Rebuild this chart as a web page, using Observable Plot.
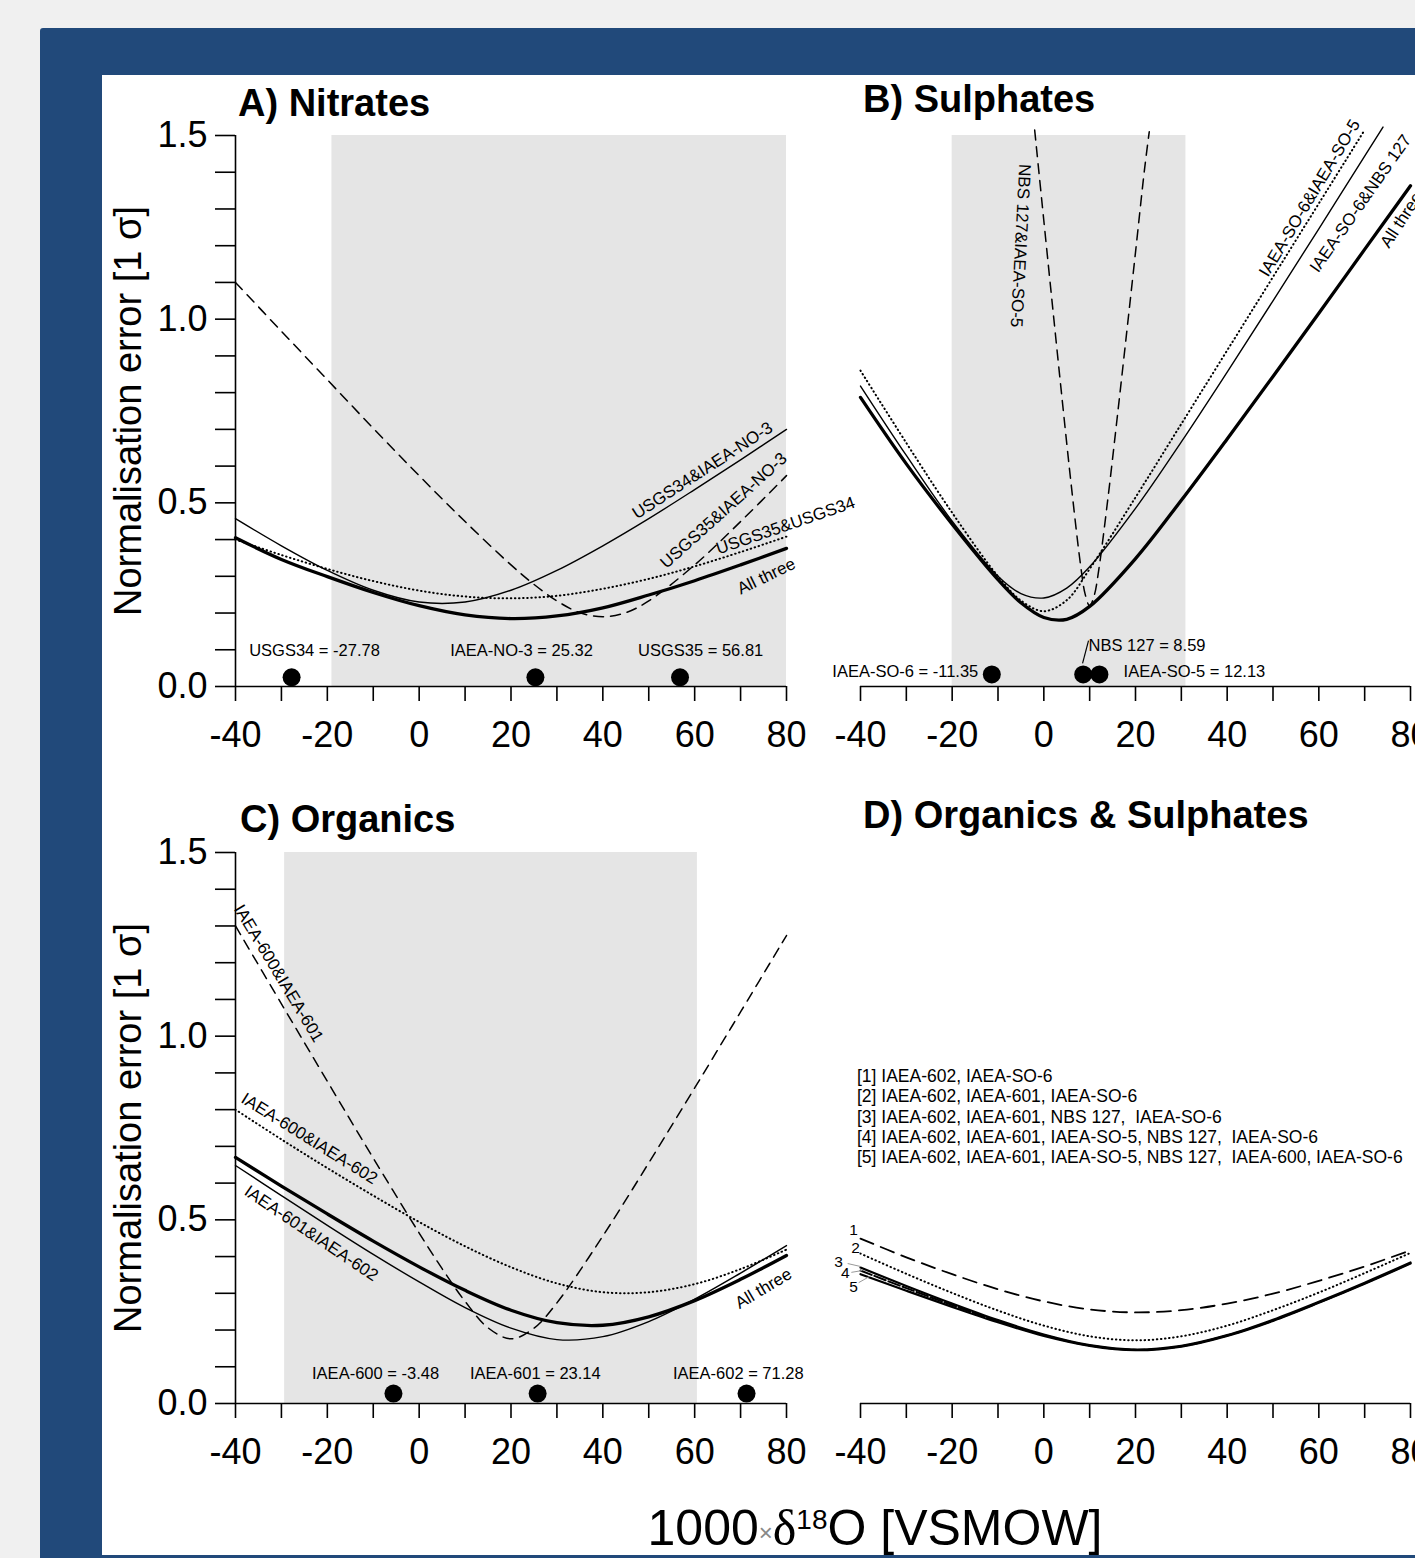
<!DOCTYPE html>
<html>
<head>
<meta charset="utf-8">
<script src="https://cdn.jsdelivr.net/npm/d3@7"></script>
<script src="https://cdn.jsdelivr.net/npm/@observablehq/plot@0.6"></script>
<style>
  body { margin: 0; background: #f0f0f0; }
  #page { position: relative; width: 1415px; height: 1558px; overflow: hidden; background: #f0f0f0;
          font-family: "Liberation Sans", Arial, Helvetica, sans-serif; color: #000; }
  .frame { position: absolute; left: 40px; top: 28px; width: 1420px; height: 1540px; background: #21497a; border-radius: 3px; }
  .sheet { position: absolute; left: 102px; top: 75px; width: 1320px; height: 1480px; background: #fff; }
  .title { position: absolute; font-size: 38px; line-height: 38px; font-weight: bold; white-space: nowrap; }
  .legend { position: absolute; left: 857px; top: 1066px; font-size: 17.5px; line-height: 20.3px; white-space: pre; }
  .xlabel { position: absolute; left: 475px; width: 800px; top: 1503px; text-align: center; font-size: 50px; line-height: 50px; white-space: nowrap; }
</style>
</head>
<body>
<div id="page">
  <div class="frame"></div>
  <div class="sheet"></div>
</div>
<script>
// ---------------- data ----------------
const xGrid = [-40, -30, -20, -10, 0, 10, 20, 30, 40, 50, 60, 70, 80];
const xTicks = [-40, -30, -20, -10, 0, 10, 20, 30, 40, 50, 60, 70, 80];
const yTicks = [0, 0.1, 0.2, 0.3, 0.4, 0.5, 0.6, 0.7, 0.8, 0.9, 1.0, 1.1, 1.2, 1.3, 1.4, 1.5];

// A) Nitrates
const nitrateRefs = ["USGS34", "IAEA-NO-3", "USGS35"];
const nitrateValues = [-27.78, 25.32, 56.81];
const nitrateRange = [-19, 80];
const nitrateAllThree = [0.405, 0.346, 0.299, 0.256, 0.220, 0.195, 0.185, 0.192, 0.214, 0.249, 0.288, 0.331, 0.376];
const nitrateUSGS34NO3 = [0.457, 0.383, 0.316, 0.262, 0.230, 0.230, 0.262, 0.316, 0.383, 0.457, 0.536, 0.617, 0.700];
const nitrateUSGS35USGS34 = [0.400, 0.358, 0.320, 0.287, 0.261, 0.245, 0.240, 0.247, 0.266, 0.293, 0.327, 0.366, 0.408];
const nitrateUSGS35NO3X = [-40, -30, -20, -10, 0, 10, 20, 25, 30, 35, 40, 45, 50, 60, 70, 80];
const nitrateUSGS35NO3 = [1.100, 0.967, 0.835, 0.703, 0.574, 0.449, 0.331, 0.278, 0.233, 0.201, 0.190, 0.201, 0.233, 0.331, 0.449, 0.574];

// B) Sulphates
const sulphateRefs = ["IAEA-SO-6", "NBS 127", "IAEA-SO-5"];
const sulphateValues = [-11.35, 8.59, 12.13];
const sulphateRange = [-20, 31];
const sulphateX = [-40, -30, -20, -10, -5, 0, 5, 10, 20, 30, 40, 50, 60, 70, 80];
const sulphateAllThree = [0.787, 0.606, 0.442, 0.291, 0.228, 0.188, 0.183, 0.218, 0.348, 0.507, 0.674, 0.844, 1.016, 1.190, 1.363];
const sulphateSO6NBSX = [-40, -30, -20, -10, -5, 0, 5, 10, 20, 30, 40, 50, 60, 70, 74];
const sulphateSO6NBS = [0.818, 0.629, 0.450, 0.300, 0.253, 0.241, 0.268, 0.326, 0.485, 0.666, 0.856, 1.050, 1.246, 1.444, 1.523];
const sulphateSO6SO5X = [-40, -30, -20, -10, -5, 0, 5, 10, 20, 30, 40, 50, 60, 70];
const sulphateSO6SO5 = [0.860, 0.663, 0.473, 0.300, 0.234, 0.205, 0.235, 0.320, 0.515, 0.715, 0.915, 1.115, 1.315, 1.515];
const sulphateNBSSO5X = [-2, 0, 2, 4, 6, 8, 9, 10, 11, 12, 14, 16, 18, 20, 22, 23];
const sulphateNBSSO5 = [1.515, 1.268, 1.023, 0.781, 0.546, 0.332, 0.252, 0.219, 0.248, 0.319, 0.514, 0.731, 0.955, 1.182, 1.411, 1.510];

// C) Organics
const organicRefs = ["IAEA-600", "IAEA-601", "IAEA-602"];
const organicValues = [-3.48, 23.14, 71.28];
const organicDotX = [-5.6, 25.8, 71.3];
const organicRange = [-29.3, 60.6];
const organicAllThree = [0.670, 0.592, 0.516, 0.442, 0.372, 0.308, 0.254, 0.220, 0.213, 0.236, 0.280, 0.338, 0.403];
const organic601602 = [0.648, 0.566, 0.485, 0.406, 0.331, 0.261, 0.205, 0.174, 0.182, 0.223, 0.284, 0.355, 0.430];
const organic600602 = [0.800, 0.719, 0.641, 0.566, 0.494, 0.428, 0.371, 0.327, 0.303, 0.303, 0.325, 0.366, 0.419];
const organic600601X = [-40, -30, -20, -10, 0, 5, 10, 15, 20, 25, 30, 40, 50, 60, 70, 80];
const organic600601 = [1.300, 1.088, 0.877, 0.668, 0.464, 0.367, 0.278, 0.206, 0.176, 0.205, 0.274, 0.456, 0.655, 0.859, 1.066, 1.274];

// D) Organics & Sulphates
const mixLegend = [
  "[1] IAEA-602, IAEA-SO-6",
  "[2] IAEA-602, IAEA-601, IAEA-SO-6",
  "[3] IAEA-602, IAEA-601, NBS 127,  IAEA-SO-6",
  "[4] IAEA-602, IAEA-601, IAEA-SO-5, NBS 127,  IAEA-SO-6",
  "[5] IAEA-602, IAEA-601, IAEA-SO-5, NBS 127,  IAEA-600, IAEA-SO-6"
];
const mix1 = [0.449, 0.398, 0.352, 0.311, 0.278, 0.256, 0.248, 0.254, 0.272, 0.299, 0.334, 0.373, 0.417];
const mix2 = [0.408, 0.353, 0.301, 0.253, 0.212, 0.183, 0.172, 0.183, 0.212, 0.254, 0.302, 0.355, 0.410];
const mix3 = [0.370, 0.320, 0.272, 0.227, 0.188, 0.159, 0.147, 0.157, 0.186, 0.228, 0.277, 0.329, 0.384];
const mix4 = [0.362, 0.314, 0.268, 0.224, 0.186, 0.158, 0.146, 0.156, 0.185, 0.226, 0.275, 0.327, 0.382];
const mix5 = [0.352, 0.307, 0.263, 0.221, 0.184, 0.157, 0.145, 0.155, 0.184, 0.225, 0.274, 0.326, 0.381];

// ---------------- helpers ----------------
const page = document.getElementById("page");
const FONT = "'Liberation Sans', Arial, Helvetica, sans-serif";
const THICK = {strokeWidth: 3.3};
const THIN = {strokeWidth: 1.4};
const DASH = {strokeWidth: 1.5, strokeDasharray: "10,7"};
const DOT = {strokeWidth: 2, strokeDasharray: "0.5,3.6", strokeLinecap: "round"};

const series = (xs, ys) => xs.map((x, i) => ({x, y: ys[i]}));
const curve = (xs, ys, opts) => Plot.line(series(xs, ys), {x: "x", y: "y", curve: "catmull-rom", stroke: "#000", ...opts});
const note = (x, y, t, rotate, fontSize = 17, extra = {}) =>
  Plot.text([{x, y, t}], {x: "x", y: "y", text: "t", rotate, fontSize, ...extra});
const shade = (range) => Plot.rect([{x1: range[0], x2: range[1]}], {x1: "x1", x2: "x2", y1: 0, y2: 1.5, fill: "#e5e5e5"});

const xAxis = () => [
  Plot.ruleY([0], {strokeWidth: 1.6}),
  Plot.axisX(xTicks, {tickSize: 15, tickPadding: 20, strokeWidth: 1.6, fontSize: 36, label: null,
    tickFormat: d => d % 20 === 0 ? String(d) : ""})
];
const yAxis = () => [
  Plot.ruleX([-40], {strokeWidth: 1.6}),
  Plot.axisY(yTicks, {tickSize: 20, tickPadding: 8, strokeWidth: 1.6, fontSize: 36, label: null,
    tickFormat: d => Math.round(d * 10) % 5 === 0 ? d.toFixed(1) : ""}),
  Plot.text(["Normalisation error [1 σ]"], {frameAnchor: "left", textAnchor: "middle", lineAnchor: "middle",
    text: d => d, rotate: -90, dx: -107, fontSize: 38})
];

function draw({left, top, width, ml, mr, mt, mb, withY, marks}) {
  const svg = Plot.plot({
    width, height: 700,
    marginLeft: ml, marginRight: mr, marginTop: mt, marginBottom: mb,
    x: {domain: [-40, 80], label: null},
    y: withY ? {domain: [0, 1.5], label: null} : {domain: [0, 1.5], label: null, axis: null},
    style: `position:absolute;left:${left}px;top:${top}px;overflow:visible;background:transparent;font-family:${FONT};color:#000;max-width:none;`,
    marks
  });
  page.appendChild(svg);
}

function html(cls, text, css) {
  const d = document.createElement("div");
  d.className = cls;
  d.innerHTML = text;
  if (css) d.style.cssText += css;
  page.appendChild(d);
}

// ---------------- A) Nitrates ----------------
draw({
  left: 102, top: 75, width: 760, ml: 133, mr: 76, mt: 60, mb: 89, withY: true,
  marks: [
    shade(nitrateRange),
    curve(nitrateUSGS35NO3X, nitrateUSGS35NO3, DASH),
    curve(xGrid, nitrateUSGS35USGS34, DOT),
    curve(xGrid, nitrateUSGS34NO3, THIN),
    curve(xGrid, nitrateAllThree, THICK),
    note(61.7, 0.588, "USGS34&IAEA-NO-3", -33),
    note(66.3, 0.479, "USGS35&IAEA-NO-3", -42),
    note(79.8, 0.438, "USGS35&USGS34", -19),
    note(75.6, 0.300, "All three", -26),
    Plot.dot(nitrateValues, {x: d => d, y: 0.025, r: 9, fill: "#000"}),
    Plot.text(nitrateRefs.map((n, i) => ({x: [-22.8, 22.3, 61.3][i], t: `${n} = ${nitrateValues[i]}`})),
      {x: "x", y: 0.098, text: "t", fontSize: 16.5}),
    ...xAxis(), ...yAxis()
  ]
});

// ---------------- B) Sulphates ----------------
draw({
  left: 820, top: 75, width: 595, ml: 40, mr: 5, mt: 60, mb: 89, withY: false,
  marks: [
    shade(sulphateRange),
    curve(sulphateNBSSO5X, sulphateNBSSO5, DASH),
    curve(sulphateSO6SO5X, sulphateSO6SO5, DOT),
    curve(sulphateSO6NBSX, sulphateSO6NBS, THIN),
    curve(sulphateX, sulphateAllThree, THICK),
    note(-5.1, 1.20, "NBS 127&IAEA-SO-5", 93),
    note(58.0, 1.33, "IAEA-SO-6&IAEA-SO-5", -59),
    note(69.1, 1.315, "IAEA-SO-6&NBS 127", -55),
    note(78.0, 1.27, "All three", -57),
    Plot.link([{x1: 9.75, y1: 0.125, x2: 8.45, y2: 0.063}], {x1: "x1", y1: "y1", x2: "x2", y2: "y2", stroke: "#000", strokeWidth: 1.2}),
    Plot.dot(sulphateValues, {x: d => d, y: 0.033, r: 9, fill: "#000"}),
    note(-14.3, 0.041, `${sulphateRefs[0]} = ${sulphateValues[0]}`, 0, 16.5, {textAnchor: "end"}),
    note(9.75, 0.112, `${sulphateRefs[1]} = ${sulphateValues[1]}`, 0, 16.5, {textAnchor: "start"}),
    note(17.4, 0.041, `${sulphateRefs[2]} = ${sulphateValues[2]}`, 0, 16.5, {textAnchor: "start"}),
    ...xAxis()
  ]
});

// ---------------- C) Organics ----------------
draw({
  left: 102, top: 790, width: 760, ml: 133, mr: 76, mt: 62, mb: 87, withY: true,
  marks: [
    shade(organicRange),
    curve(organic600601X, organic600601, DASH),
    curve(xGrid, organic600602, DOT),
    curve(xGrid, organic601602, THIN),
    curve(xGrid, organicAllThree, THICK),
    note(-30.6, 1.171, "IAEA-600&IAEA-601", 59),
    note(-23.9, 0.721, "IAEA-600&IAEA-602", 32),
    note(-23.5, 0.463, "IAEA-601&IAEA-602", 34),
    note(75.0, 0.313, "All three", -31),
    Plot.dot(organicDotX, {x: d => d, y: 0.027, r: 9, fill: "#000"}),
    Plot.text(organicRefs.map((n, i) => ({x: [-9.5, 25.3, 69.5][i], t: `${n} = ${organicValues[i]}`})),
      {x: "x", y: 0.082, text: "t", fontSize: 16.5}),
    ...xAxis(), ...yAxis()
  ]
});

// ---------------- D) Organics & Sulphates ----------------
draw({
  left: 820, top: 790, width: 595, ml: 40, mr: 5, mt: 62, mb: 87, withY: false,
  marks: [
    curve(xGrid, mix1, {strokeWidth: 1.8, strokeDasharray: "14,8"}),
    curve(xGrid, mix2, DOT),
    curve(xGrid, mix5, {strokeWidth: 2.2}),
    curve(xGrid, mix4, {strokeWidth: 2, strokeDasharray: "12,3"}),
    curve(xGrid, mix3, {strokeWidth: 2.2}),
    Plot.link([
      {x1: -42.8, y1: 0.381, x2: -40, y2: 0.373},
      {x1: -42.0, y1: 0.357, x2: -39.6, y2: 0.362},
      {x1: -40.4, y1: 0.329, x2: -38.0, y2: 0.346}
    ], {x1: "x1", y1: "y1", x2: "x2", y2: "y2", stroke: "#999", strokeWidth: 1}),
    Plot.text([
      {x: -41.5, y: 0.471, t: "1"}, {x: -41.1, y: 0.422, t: "2"}, {x: -44.8, y: 0.384, t: "3"},
      {x: -43.3, y: 0.354, t: "4"}, {x: -41.5, y: 0.316, t: "5"}
    ], {x: "x", y: "y", text: "t", fontSize: 15.5}),
    ...xAxis()
  ]
});

// ---------------- titles & text ----------------
html("title", "A) Nitrates", "left:238px;top:84px;");
html("title", "B) Sulphates", "left:863px;top:80px;");
html("title", "C) Organics", "left:240px;top:800px;");
html("title", "D) Organics &amp; Sulphates", "left:863px;top:796px;");
html("legend", mixLegend.join("\n"));
html("xlabel", '1000<span style="font-size:24px;color:#888;position:relative;top:-4px">×</span><span style="font-family:\'Liberation Serif\',serif">δ</span><span style="font-size:28px;position:relative;top:-16px">18</span>O [VSMOW]');
</script>
</body>
</html>
